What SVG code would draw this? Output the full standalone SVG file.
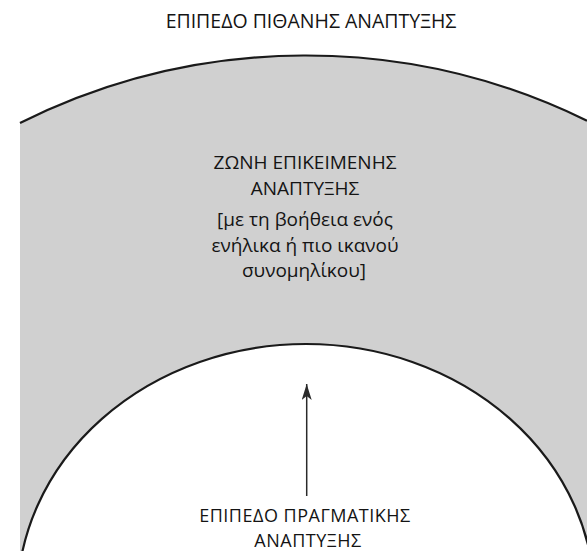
<svg xmlns="http://www.w3.org/2000/svg" width="587" height="551" viewBox="0 0 587 551">
  <style>
    .lbl { font-family: "Open Sans", "Noto Sans", "DejaVu Sans", sans-serif; font-size: 19px; fill: #141414; text-anchor: middle; }
    .title { font-size: 19.5px; }
    .low { font-size: 18px; letter-spacing: 0.5px; }
    .edge { fill: none; stroke: #1a1a1a; stroke-width: 2.2; }
    .conn { stroke: #2a2a2a; stroke-width: 1.5; fill: none; }
  </style>
  <defs>
    <marker id="arrow" viewBox="0 0 16 10" refX="16" refY="5" markerUnits="userSpaceOnUse" markerWidth="16" markerHeight="10" orient="auto">
      <path d="M0,0 L16,5 L0,10 L4,5 Z" fill="#2a2a2a"/>
    </marker>
  </defs>
  <rect width="587" height="551" fill="#ffffff"/>

  <g id="potential-level">
    <text class="lbl title" x="311" y="28">ΕΠΙΠΕΔΟ ΠΙΘΑΝΗΣ ΑΝΑΠΤΥΞΗΣ</text>
  </g>

  <g id="zpd">
    <path d="M20,123 A638.9,638.9 0 0 1 587,120.7 L587,551 L20,551 Z" fill="#d0d0d0"/>
    <path class="edge" d="M20,123 A638.9,638.9 0 0 1 587,120.7"/>
    <text class="lbl" x="305" y="169">ΖΩΝΗ ΕΠΙΚΕΙΜΕΝΗΣ</text>
    <text class="lbl" x="305" y="195">ΑΝΑΠΤΥΞΗΣ</text>
    <text class="lbl" x="305" y="226">[με τη βοήθεια ενός</text>
    <text class="lbl" x="305" y="252">ενήλικα ή πιο ικανού</text>
    <text class="lbl" x="304" y="277">συνομηλίκου]</text>
  </g>

  <g id="actual-level">
    <ellipse cx="306" cy="599.5" rx="288.7" ry="255.5" fill="#ffffff" stroke="#1a1a1a" stroke-width="2.2"/>
    <text class="lbl low" x="305" y="521.5">ΕΠΙΠΕΔΟ ΠΡΑΓΜΑΤΙΚΗΣ</text>
    <text class="lbl low" x="308" y="546.5">ΑΝΑΠΤΥΞΗΣ</text>
  </g>

  <g id="connectors">
    <line class="conn" x1="306.7" y1="496" x2="306.7" y2="384" marker-end="url(#arrow)"/>
  </g>
</svg>
